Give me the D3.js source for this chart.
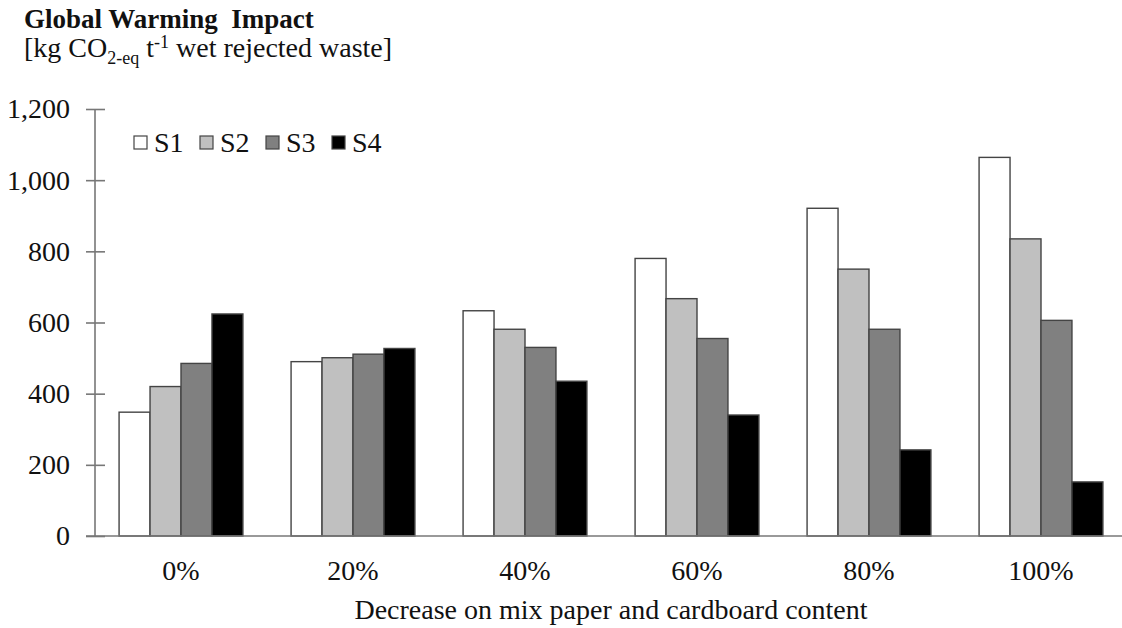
<!DOCTYPE html>
<html>
<head>
<meta charset="utf-8">
<script src="https://cdn.jsdelivr.net/npm/d3@7"></script>
<style>
  html, body { margin: 0; padding: 0; background: #fff; }
  svg { display: block; }
  text { font-family: "Liberation Serif", "Times New Roman", serif; fill: #111; }
</style>
</head>
<body>
<svg id="chart" width="1122" height="628"></svg>
<script>
const categories = ["0%", "20%", "40%", "60%", "80%", "100%"];
const seriesNames = ["S1", "S2", "S3", "S4"];
const S1 = [348, 490, 633, 780, 921, 1064];
const S2 = [420, 501, 581, 667, 750, 835];
const S3 = [485, 511, 530, 555, 581, 606];
const S4 = [624, 527, 435, 340, 242, 152];
const seriesValues = [S1, S2, S3, S4];
const seriesColors = ["#ffffff", "#c0c0c0", "#808080", "#000000"];
const yTicks = [0, 200, 400, 600, 800, 1000, 1200];
const xAxisLabel = "Decrease on mix paper and cardboard content";

const FS = "28px";
const svg = d3.select("#chart");
const x0 = d3.scaleBand().domain(categories).range([95, 1127]).paddingInner(0.28).paddingOuter(0.14);
const x1 = d3.scaleBand().domain(seriesNames).range([0, x0.bandwidth()]);
const y = d3.scaleLinear().domain([0, 1200]).range([536, 109]);

// Title
svg.append("text").attr("x", 24).attr("y", 28)
  .style("font-size", "27px").style("font-weight", "bold")
  .attr("xml:space", "preserve")
  .text("Global Warming  Impact");

const sub = svg.append("text").attr("x", 24).attr("y", 57).style("font-size", FS);
sub.append("tspan").text("[kg CO");
sub.append("tspan").attr("dy", 7).style("font-size", "18px").text("2-eq");
sub.append("tspan").attr("dy", -7).text(" t");
sub.append("tspan").attr("dy", -9).style("font-size", "18px").text("-1");
sub.append("tspan").attr("dy", 9).text(" wet rejected waste]");

// Bars
const data = categories.map((c, i) => ({cat: c, vals: seriesNames.map((s, j) => ({s, j, v: seriesValues[j][i]}))}));
const groups = svg.append("g").selectAll("g").data(data).join("g")
  .attr("transform", d => `translate(${x0(d.cat)},0)`);
groups.selectAll("rect").data(d => d.vals).join("rect")
  .attr("x", d => x1(d.s))
  .attr("y", d => y(d.v))
  .attr("width", x1.bandwidth())
  .attr("height", d => y(0) - y(d.v))
  .attr("fill", d => seriesColors[d.j])
  .attr("stroke", "#444")
  .attr("stroke-width", 1.4);

// Y axis
const yAxis = svg.append("g").attr("transform", "translate(95,0)")
  .call(d3.axisLeft(y).tickValues(yTicks).tickSize(9).tickPadding(16).tickFormat(d3.format(",")));
yAxis.select(".domain").attr("stroke", "#777").attr("stroke-width", 1.6).attr("d", `M0,${y(1200)}V${y(0)}`);
yAxis.selectAll(".tick line").attr("stroke", "#777").attr("stroke-width", 1.6).attr("x1", -9).attr("x2", 10);
yAxis.selectAll(".tick text").style("font-size", FS).style("font-family", "'Liberation Serif', serif").attr("fill", "#222");

// X axis
const xAxis = svg.append("g").attr("transform", `translate(0,${y(0)})`)
  .call(d3.axisBottom(x0).tickSize(0).tickPadding(24));
xAxis.select(".domain").attr("stroke", "#777").attr("stroke-width", 1.6).attr("d", `M86,0H1122`);
xAxis.selectAll(".tick text").style("font-size", FS).style("font-family", "'Liberation Serif', serif").attr("fill", "#222");

svg.append("text").attr("x", 611).attr("y", 619).attr("text-anchor", "middle")
  .style("font-size", FS).attr("fill", "#222").text(xAxisLabel);

// Legend
const legend = svg.append("g").selectAll("g").data(seriesNames).join("g")
  .attr("transform", (d, i) => `translate(${134 + i * 66},136)`);
legend.append("rect").attr("width", 13).attr("height", 13)
  .attr("fill", (d, i) => seriesColors[i]).attr("stroke", "#444").attr("stroke-width", 1.2);
legend.append("text").attr("x", 20).attr("y", 16).style("font-size", FS).attr("fill", "#222").text(d => d);
</script>
</body>
</html>
